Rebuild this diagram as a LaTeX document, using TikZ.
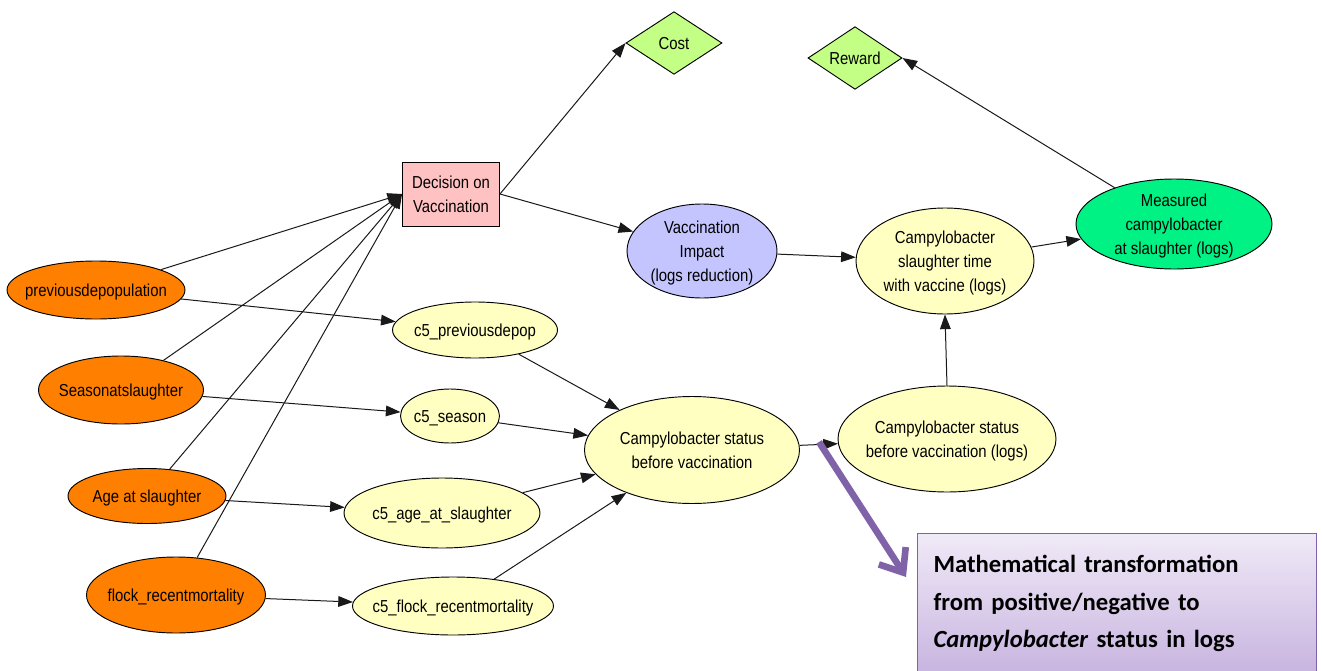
\documentclass[tikz,border=0pt]{standalone}
\usepackage{fontspec}
\setmainfont{Liberation Sans}[FakeStretch=0.86]
\newfontfamily\notefont{Carlito}
\usetikzlibrary{arrows.meta,shapes.geometric}

\definecolor{obsorange}{HTML}{FF8000}
\definecolor{chanceyellow}{HTML}{FFFFC2}
\definecolor{utilgreen}{HTML}{C2FF84}
\definecolor{decpink}{HTML}{FFC2C2}
\definecolor{impactblue}{HTML}{C4C4FF}
\definecolor{measgreen}{HTML}{00F284}
\definecolor{notepurple}{HTML}{7F62A8}
\definecolor{notetop}{HTML}{F0EAF7}
\definecolor{notebottom}{HTML}{C8B4E0}

% centred label of zero size, so the oval keeps the size it is given
\newcommand\lbl[1]{\makebox[0pt]{\smash{\raisebox{-4pt}{\begin{tabular}[c]{@{}c@{}}#1\end{tabular}}}}}

\begin{document}
\begin{tikzpicture}[x=0.75pt,y=-0.75pt,
  netnode/.style={draw=black, line width=0.7pt, inner sep=0pt,
    font=\fontsize{13}{18}\selectfont},
  oval/.style={netnode, ellipse},
  observed/.style={oval, fill=obsorange},
  chance/.style={oval, fill=chanceyellow},
  utility/.style={netnode, diamond, fill=utilgreen, aspect=1.5},
  decision/.style={netnode, rectangle, fill=decpink},
  link/.style={draw=black!90, line width=0.75pt, -{Triangle[length=11pt,width=8pt]}},
]
\useasboundingbox (0,0) rectangle (1322,671);

% decision and utility nodes
\node[decision, minimum width=72.75pt, minimum height=48pt] (dec) at (451,194) {\lbl{Decision on\\Vaccination}};
\node[utility, minimum width=72pt, minimum height=47pt] (cost) at (674,43) {\lbl{Cost}};
\node[utility, minimum width=70.5pt, minimum height=47pt] (rew) at (855,58) {\lbl{Reward}};

% chance nodes on the vaccination side
\node[oval, fill=impactblue, minimum width=112.5pt, minimum height=70.5pt] (vi) at (702,251) {\lbl{Vaccination\\Impact\\(logs reduction)}};
\node[chance, minimum width=133.5pt, minimum height=79.5pt] (st) at (945,261) {\lbl{Campylobacter\\slaughter time\\with vaccine (logs)}};
\node[oval, fill=measgreen, minimum width=147pt, minimum height=67.5pt] (meas) at (1174,224) {\lbl{Measured\\campylobacter\\at slaughter (logs)}};

% observed flock variables
\node[observed, minimum width=133.5pt, minimum height=43.5pt] (pd) at (96,290) {\lbl{previousdepopulation}};
\node[observed, minimum width=123.75pt, minimum height=51pt] (sea) at (121,390) {\lbl{Seasonatslaughter}};
\node[observed, minimum width=118.5pt, minimum height=41.25pt] (age) at (147,496) {\lbl{Age at slaughter}};
\node[observed, minimum width=134.25pt, minimum height=57pt] (flk) at (176,595) {\lbl{flock\_recentmortality}};

% conditional nodes
\node[chance, minimum width=123.75pt, minimum height=42pt] (cpd) at (475,330) {\lbl{c5\_previousdepop}};
\node[chance, minimum width=74.25pt, minimum height=40.5pt] (cse) at (450,416) {\lbl{c5\_season}};
\node[chance, minimum width=147pt, minimum height=52.5pt] (cag) at (442,513) {\lbl{c5\_age\_at\_slaughter}};
\node[chance, minimum width=150.75pt, minimum height=43.5pt] (cfl) at (453,606) {\lbl{c5\_flock\_recentmortality}};

\node[chance, minimum width=161.25pt, minimum height=80.25pt] (csbv) at (692,450) {\lbl{Campylobacter status\\before vaccination}};
\node[chance, minimum width=163.5pt, minimum height=79.5pt] (logs) at (947,439) {\lbl{Campylobacter status\\before vaccination (logs)}};

% network links
\foreach \src in {pd,sea,age,flk} \draw[link] (\src) -- (dec.west);
\draw[link] (pd) -- (cpd);
\draw[link] (sea) -- (cse);
\draw[link] (age) -- (cag);
\draw[link] (flk) -- (cfl);
\foreach \src in {cpd,cse,cag,cfl} \draw[link] (\src) -- (csbv);
\draw[link] (dec.east) -- (cost.west);
\draw[link] (dec.east) -- (vi);
\draw[link] (vi) -- (st);
\draw[link] (csbv) -- (logs);
\draw[link] (logs.north) -- (st.south);
\draw[link] (st) -- (meas);
\draw[link] (meas) -- (rew.east);

% annotation box
\node[anchor=north west, draw=notepurple, line width=0.8pt,
  top color=notetop, bottom color=notebottom,
  minimum width=299pt, minimum height=105pt, inner xsep=12pt,
  text width=275pt, align=left,
  font=\notefont\bfseries\fontsize{18.5}{28}\selectfont] (note) at (917,533)
  {Mathematical transformation\\from positive/negative to\\\textit{Campylobacter} status in logs};

\coordinate (pa) at (819,442);
\coordinate (pb) at (906,577);
\draw[notepurple, line width=5pt, -{Straight Barb[length=15pt,width=24pt]}] (pa) -- (pb);
\end{tikzpicture}
\end{document}
